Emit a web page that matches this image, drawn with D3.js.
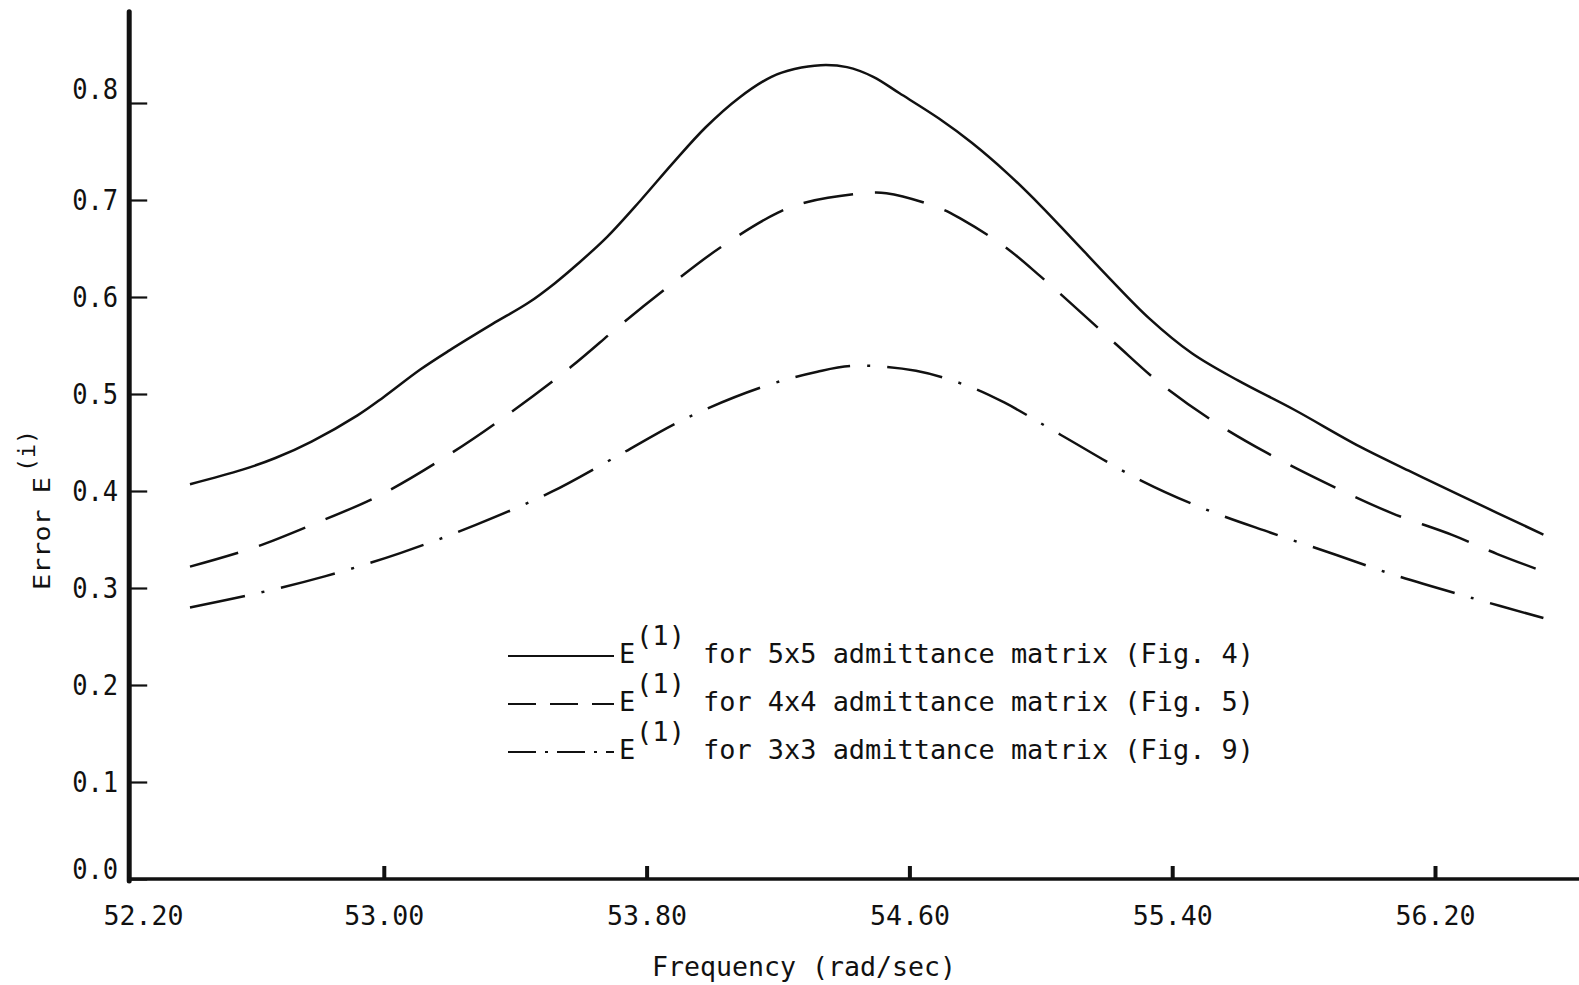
<!DOCTYPE html>
<html>
<head>
<meta charset="utf-8">
<script src="https://cdn.jsdelivr.net/npm/d3@7"></script>
<style>
  html, body { margin: 0; padding: 0; background: #fff; }
  svg { display: block; }
</style>
</head>
<body>
<svg id="chart" width="1579" height="985"></svg>
<script>
// Frequency (rad/sec) and error E(1) for each reduced admittance matrix
const freq5x5 = [52.41, 52.57, 52.67, 52.78, 52.92, 53.00, 53.11, 53.20, 53.33, 53.44, 53.52, 53.59,
                 53.68, 53.78, 53.88, 53.98, 54.08, 54.18, 54.25, 54.33, 54.41, 54.49, 54.57, 54.69,
                 54.79, 54.90, 55.00, 55.09, 55.21, 55.33, 55.46, 55.60, 55.77, 55.97, 56.12, 56.28, 56.53];
const err5x5  = [0.407, 0.422, 0.434, 0.451, 0.478, 0.497, 0.525, 0.545, 0.572, 0.594, 0.614, 0.634,
                 0.662, 0.699, 0.738, 0.775, 0.805, 0.827, 0.835, 0.839, 0.837, 0.827, 0.810, 0.784,
                 0.759, 0.727, 0.694, 0.662, 0.619, 0.578, 0.542, 0.514, 0.484, 0.446, 0.421, 0.395, 0.355];

const freq4x4 = [52.41, 52.60, 52.78, 52.99, 53.21, 53.37, 53.57, 53.72, 53.86, 54.02, 54.20, 54.29,
                 54.46, 54.53, 54.69, 54.76, 54.89, 55.00, 55.09, 55.23, 55.36, 55.52, 55.69, 55.90,
                 56.07, 56.25, 56.39, 56.53];
const err4x4  = [0.322, 0.341, 0.365, 0.396, 0.440, 0.477, 0.528, 0.571, 0.609, 0.650, 0.687, 0.698,
                 0.707, 0.707, 0.692, 0.680, 0.652, 0.621, 0.594, 0.551, 0.512, 0.473, 0.439, 0.403,
                 0.377, 0.355, 0.335, 0.317];

const freq3x3 = [52.41, 52.62, 52.82, 53.05, 53.28, 53.51, 53.70, 53.92, 54.15, 54.32, 54.43, 54.62,
                 54.78, 54.89, 55.06, 55.31, 55.51, 55.70, 55.90, 56.08, 56.31, 56.53];
const err3x3  = [0.280, 0.295, 0.312, 0.336, 0.365, 0.399, 0.434, 0.475, 0.507, 0.523, 0.529, 0.524,
                 0.508, 0.491, 0.458, 0.410, 0.380, 0.357, 0.334, 0.313, 0.290, 0.269];

const xTicks = [52.2, 53.0, 53.8, 54.6, 55.4, 56.2];
const yTicks = [0.0, 0.1, 0.2, 0.3, 0.4, 0.5, 0.6, 0.7, 0.8];

const legendLabels = [
  "for 5x5 admittance matrix (Fig. 4)",
  "for 4x4 admittance matrix (Fig. 5)",
  "for 3x3 admittance matrix (Fig. 9)"
];
const legendSymbol = "E";
const legendSup = "(1)";
const xTitle = "Frequency (rad/sec)";
const yTitleMain = "Error E";
const yTitleSup = "(i)";

// Axis extents (data units)
const xLo = 52.225, xHi = 56.64, yHi = 0.894;

const INK = "#111";
const FONT = "'DejaVu Sans Mono', monospace";

const svg = d3.select("#chart");
svg.append("rect").attr("width", 1579).attr("height", 985).attr("fill", "#fff");

const x = d3.scaleLinear().domain([52.2, 56.2]).range([121, 1435]);
const y = d3.scaleLinear().domain([0, 0.8]).range([879, 103]);

// ---- curves ----
const series = [
  { f: freq5x5, e: err5x5, dash: null,          legendDash: null },
  { f: freq4x4, e: err4x4, dash: "50 22",        legendDash: "28 14" },
  { f: freq3x3, e: err3x3, dash: "56 17 3 17",   legendDash: "28 9 3 9" }
];

const line = d3.line()
  .x(d => x(d[0]))
  .y(d => y(d[1]))
  .curve(d3.curveCatmullRom.alpha(0.5));

series.forEach(s => {
  svg.append("path")
    .datum(d3.zip(s.f, s.e))
    .attr("d", line)
    .attr("fill", "none")
    .attr("stroke", INK)
    .attr("stroke-width", 2.5)
    .attr("stroke-dasharray", s.dash)
    .attr("stroke-linejoin", "round");
});

// ---- y axis ----
const yAxis = d3.axisLeft(y)
  .tickValues(yTicks)
  .tickSize(-18)
  .tickPadding(11)
  .tickFormat(d3.format(".1f"));

const gy = svg.append("g")
  .attr("transform", `translate(${x(xLo)},0)`)
  .call(yAxis);
gy.select(".domain").remove();
gy.selectAll(".tick line").attr("stroke", INK).attr("stroke-width", 2.2);
gy.selectAll(".tick text")
  .attr("font-family", FONT)
  .attr("font-size", 29)
  .attr("fill", INK)
  .attr("textLength", 46)
  .attr("lengthAdjust", "spacingAndGlyphs")
  .attr("y", d => d === 0 ? -10 : (d === 0.8 ? -14 : 0));

svg.append("line")
  .attr("x1", x(xLo)).attr("x2", x(xLo))
  .attr("y1", y(yHi)).attr("y2", y(0) + 2)
  .attr("stroke", INK)
  .attr("stroke-width", 5)
  .attr("stroke-linecap", "round");

// ---- x axis ----
const xAxis = d3.axisBottom(x)
  .tickValues(xTicks)
  .tickSize(-13)
  .tickPadding(0)
  .tickFormat(d3.format(".2f"));

const gx = svg.append("g")
  .attr("transform", `translate(0,${y(0)})`)
  .call(xAxis);
gx.select(".domain").remove();
gx.selectAll(".tick line").attr("stroke", INK).attr("stroke-width", 4);
gx.selectAll(".tick").filter(d => d === xTicks[0]).select("line").remove();
gx.selectAll(".tick text")
  .attr("font-family", FONT)
  .attr("font-size", 27)
  .attr("fill", INK)
  .attr("y", 46)
  .attr("dy", 0)
  .attr("dx", d => d === xTicks[0] ? 22 : 0)
  .attr("textLength", 80)
  .attr("lengthAdjust", "spacingAndGlyphs");

svg.append("line")
  .attr("x1", x(xLo) - 2).attr("x2", x(xHi))
  .attr("y1", y(0)).attr("y2", y(0))
  .attr("stroke", INK)
  .attr("stroke-width", 3.5);

// ---- axis titles ----
svg.append("text")
  .attr("x", 804).attr("y", 976)
  .attr("text-anchor", "middle")
  .attr("font-family", FONT)
  .attr("font-size", 27)
  .attr("fill", INK)
  .attr("textLength", 304)
  .attr("lengthAdjust", "spacingAndGlyphs")
  .text(xTitle);

const yt = svg.append("g").attr("transform", "translate(50,590) rotate(-90)");
yt.append("text")
  .attr("x", 0).attr("y", 0)
  .attr("font-family", FONT)
  .attr("font-size", 23)
  .attr("fill", INK)
  .attr("textLength", 113)
  .attr("lengthAdjust", "spacingAndGlyphs")
  .text(yTitleMain);
yt.append("text")
  .attr("x", 118).attr("y", -15)
  .attr("font-family", FONT)
  .attr("font-size", 23)
  .attr("fill", INK)
  .attr("textLength", 42)
  .attr("lengthAdjust", "spacingAndGlyphs")
  .text(yTitleSup);

// ---- legend ----
const legend = svg.append("g");
series.forEach((s, i) => {
  const b = 663 + 48 * i;
  legend.append("line")
    .attr("x1", 508).attr("x2", 614)
    .attr("y1", b - 7).attr("y2", b - 7)
    .attr("stroke", INK)
    .attr("stroke-width", 2)
    .attr("stroke-dasharray", s.legendDash);
  legend.append("text")
    .attr("x", 619).attr("y", b)
    .attr("font-family", FONT).attr("font-size", 27).attr("fill", INK)
    .text(legendSymbol);
  legend.append("text")
    .attr("x", 636).attr("y", b - 18)
    .attr("font-family", FONT).attr("font-size", 27).attr("fill", INK)
    .attr("textLength", 49).attr("lengthAdjust", "spacingAndGlyphs")
    .text(legendSup);
  legend.append("text")
    .attr("x", 703).attr("y", b)
    .attr("font-family", FONT).attr("font-size", 27).attr("fill", INK)
    .attr("textLength", 551).attr("lengthAdjust", "spacingAndGlyphs")
    .text(legendLabels[i]);
});
</script>
</body>
</html>
